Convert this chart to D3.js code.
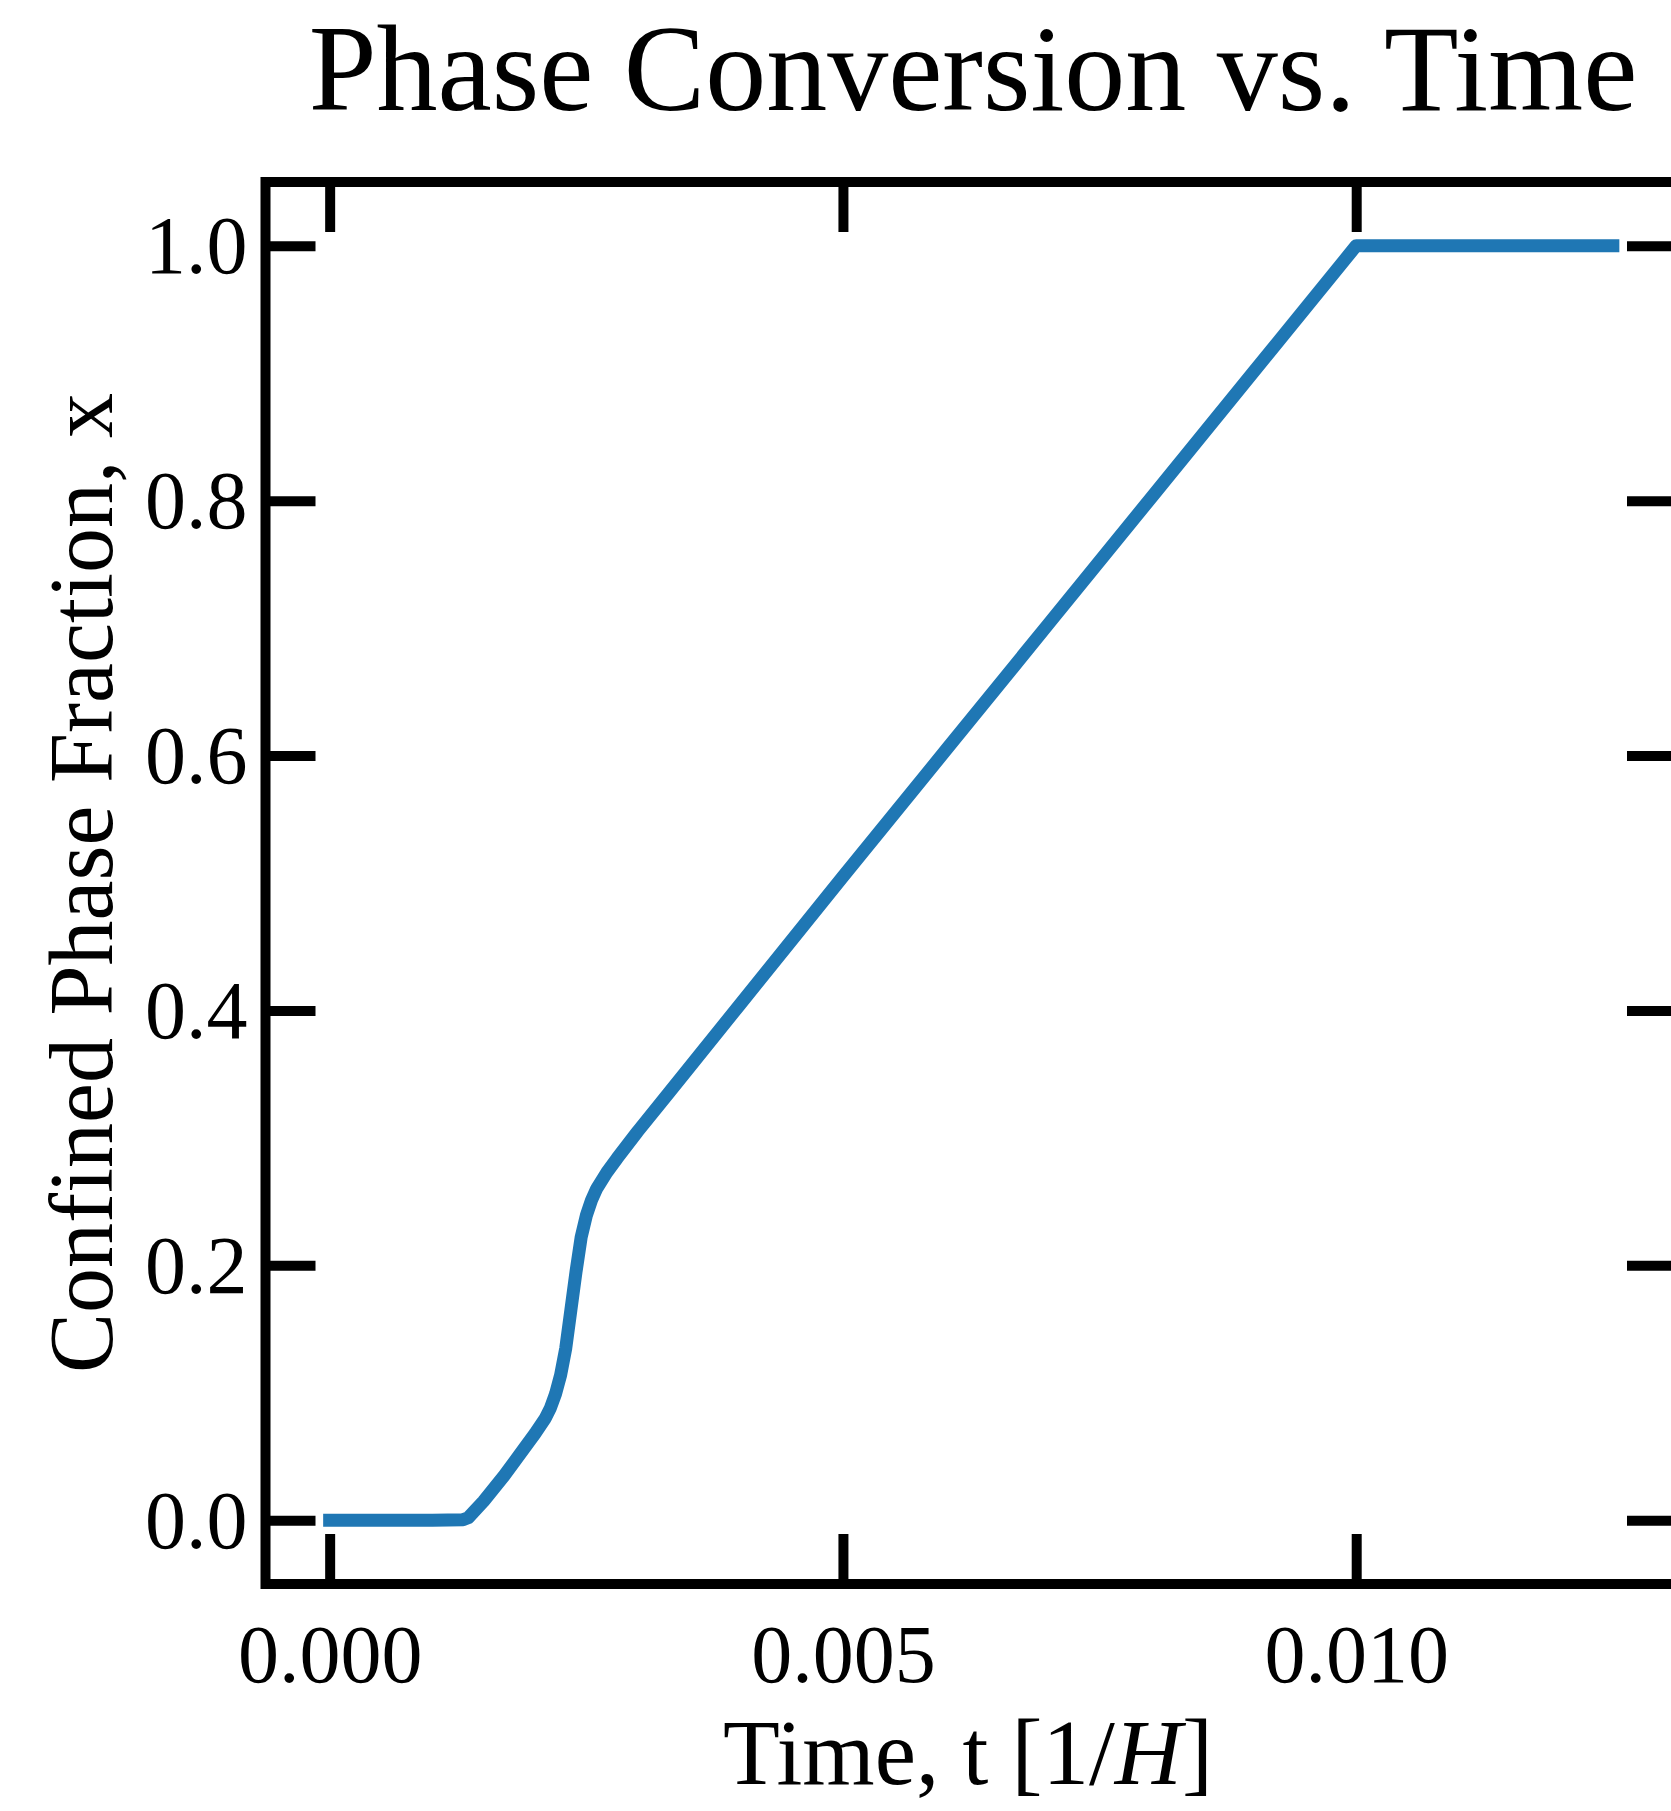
<html>
<script src='https://d3js.org/d3.v7.min.js'></script>
<style>
    body { margin: 0; background: white; }
    text { font-family: 'Liberation Serif', 'DejaVu Serif', serif; fill: black; }
    .domain { display: none; }
</style>

<body onload='init()'>
    <svg width=1671 height=1811></svg>
    <script>
        // values
        const times = [0, 0.0005, 0.001, 0.0013, 0.00135, 0.0015, 0.0017, 0.0019, 0.002, 0.0021,
            0.00215, 0.0022, 0.00225, 0.0023, 0.00235, 0.0024, 0.00245, 0.0025, 0.00255, 0.0026,
            0.0027, 0.0028, 0.003, 0.0033, 0.0035, 0.004, 0.0045, 0.005, 0.006, 0.007, 0.008,
            0.009, 0.01, 0.011, 0.012, 0.0125];
        const fraction = [0, 0, 0, 0.0005, 0.002, 0.015, 0.035, 0.057, 0.068, 0.080,
            0.088, 0.099, 0.114, 0.135, 0.165, 0.195, 0.222, 0.239, 0.251, 0.260,
            0.273, 0.284, 0.305, 0.335, 0.355, 0.405, 0.455, 0.505, 0.604, 0.703, 0.802,
            0.901, 1.0, 1.0, 1.0, 1.0];
        const xTicks = [0, 0.005, 0.01];
        const xTickLabels = ['0.000', '0.005', '0.010'];
        const yTicks = [0, 0.2, 0.4, 0.6, 0.8, 1.0];
        const yTickLabels = ['0.0', '0.2', '0.4', '0.6', '0.8', '1.0'];

        function init() {
            const left = 265.5, right = 1677, top = 182, bottom = 1584;
            const tick = 50;
            const svg = d3.select('svg');

            const x = d3.scaleLinear().domain([-0.000625, 0.013125]).range([left, right]);
            const y = d3.scaleLinear().domain([-0.05, 1.05]).range([bottom, top]);

            const data = times.map((t, i) => [t, fraction[i]]);

            // the curve
            svg.append('path')
                .datum(data)
                .attr('fill', 'none')
                .attr('stroke', '#1f77b4')
                .attr('stroke-width', 13)
                .attr('stroke-linecap', 'square')
                .attr('stroke-linejoin', 'round')
                .attr('d', d3.line().x(d => x(d[0])).y(d => y(d[1])));

            // inward ticks on all four sides
            const bottomAxis = svg.append('g')
                .attr('transform', 'translate(0,' + bottom + ')')
                .call(d3.axisBottom(x).tickValues(xTicks).tickSizeInner(-tick).tickSizeOuter(0)
                    .tickFormat((d, i) => xTickLabels[i]));
            svg.append('g')
                .attr('transform', 'translate(0,' + top + ')')
                .call(d3.axisTop(x).tickValues(xTicks).tickSizeInner(-tick).tickSizeOuter(0).tickFormat(''));
            const leftAxis = svg.append('g')
                .attr('transform', 'translate(' + left + ',0)')
                .call(d3.axisLeft(y).tickValues(yTicks).tickSizeInner(-tick).tickSizeOuter(0)
                    .tickFormat((d, i) => yTickLabels[i]));
            svg.append('g')
                .attr('transform', 'translate(' + right + ',0)')
                .call(d3.axisRight(y).tickValues(yTicks).tickSizeInner(-tick).tickSizeOuter(0).tickFormat(''));

            svg.selectAll('.tick line').attr('stroke', 'black').attr('stroke-width', 10);

            bottomAxis.selectAll('text')
                .attr('y', 98).attr('dy', 0)
                .style('font-size', '82px');
            leftAxis.selectAll('text')
                .attr('x', -18).attr('dy', '0.33em')
                .style('font-size', '82px');

            // frame
            svg.append('rect')
                .attr('x', left).attr('y', top)
                .attr('width', right - left).attr('height', bottom - top)
                .attr('fill', 'none').attr('stroke', 'black').attr('stroke-width', 10);

            // titles
            svg.append('text')
                .attr('x', 973).attr('y', 110)
                .attr('text-anchor', 'middle')
                .style('font-size', '122px')
                .text('Phase Conversion vs. Time');

            const xl = svg.append('text')
                .attr('x', 968).attr('y', 1784)
                .attr('text-anchor', 'middle')
                .style('font-size', '93px');
            xl.append('tspan').text('Time, t [1/');
            xl.append('tspan').style('font-style', 'italic').text('H');
            xl.append('tspan').text(']');

            svg.append('text')
                .attr('transform', 'translate(112,883) rotate(-90)')
                .attr('text-anchor', 'middle')
                .style('font-size', '90px')
                .text('Confined Phase Fraction, x');
        }
    </script>
</body>

</html>
